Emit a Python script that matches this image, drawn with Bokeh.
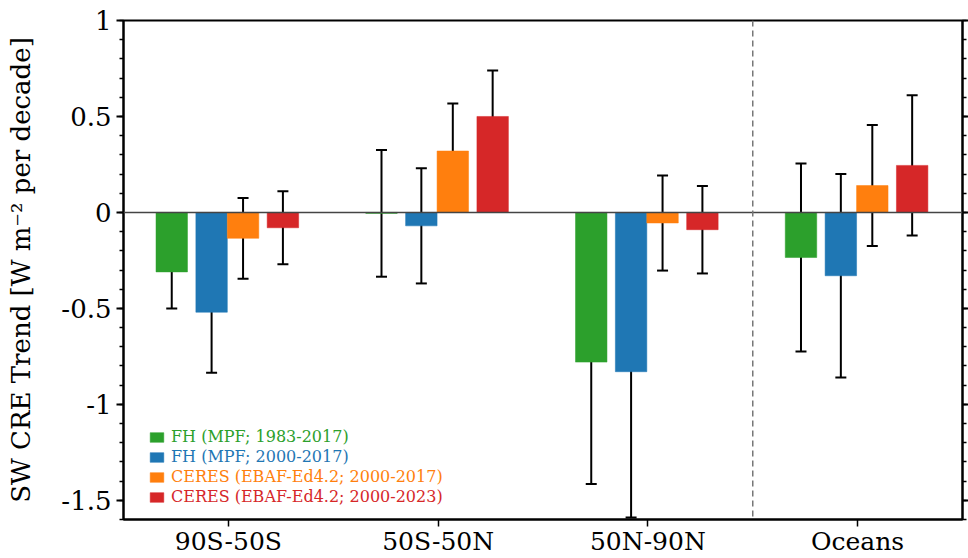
import numpy as np
from bokeh.plotting import figure
from bokeh.models import (ColumnDataSource, Whisker, TeeHead, Span, LinearAxis,
                          FixedTicker, SingleIntervalTicker, CustomJSTickFormatter,
                          Legend, LegendItem, Range1d)
from bokeh.embed import file_html
from bokeh.resources import INLINE

# ---------------- data ----------------
categories = ["90S-50S", "50S-50N", "50N-90N", "Oceans"]

fh_1983 = [-0.31, -0.005, -0.78, -0.235]
fh_1983_err = [0.19, 0.33, 0.635, 0.49]

fh_2000 = [-0.52, -0.07, -0.83, -0.33]
fh_2000_err = [0.316, 0.30, 0.76, 0.53]

ceres_2017 = [-0.135, 0.32, -0.055, 0.14]
ceres_2017_err = [0.21, 0.248, 0.248, 0.315]

ceres_2023 = [-0.08, 0.50, -0.09, 0.245]
ceres_2023_err = [0.19, 0.24, 0.228, 0.365]

series_labels = ["FH (MPF; 1983-2017)", "FH (MPF; 2000-2017)",
                 "CERES (EBAF-Ed4.2; 2000-2017)", "CERES (EBAF-Ed4.2; 2000-2023)"]
series_colors = ["#2ca02c", "#1f77b4", "#ff7f0e", "#d62728"]

y_ticks_major = 0.5
# --------------------------------------

FONT = "DejaVu Serif"

p = figure(width=968, height=558, output_backend="svg", toolbar_location=None,
           x_range=Range1d(-0.5, 3.5), y_range=Range1d(-1.6, 1.0),
           min_border_left=123, min_border_right=6, min_border_top=20,
           min_border_bottom=39)
p.xgrid.visible = False
p.ygrid.visible = False
p.outline_line_color = "black"
p.outline_line_width = 2
p.background_fill_color = "white"
p.border_fill_color = "white"

xpos = np.arange(len(categories))
offsets = [-0.27, -0.08, 0.07, 0.26]
values = [fh_1983, fh_2000, ceres_2017, ceres_2023]
errors = [fh_1983_err, fh_2000_err, ceres_2017_err, ceres_2023_err]

renderers = []
for vals, errs, off, col in zip(values, errors, offsets, series_colors):
    v = np.array(vals)
    e = np.array(errs)
    src = ColumnDataSource(dict(x=xpos + off, top=v, upper=v + e, lower=v - e))
    r = p.vbar(x="x", top="top", bottom=0, width=0.15, source=src,
               fill_color=col, line_color=col, line_width=0.5)
    renderers.append(r)
    w = Whisker(base="x", upper="upper", lower="lower", source=src,
                line_color="black", line_width=2,
                upper_head=TeeHead(size=11, line_color="black", line_width=2),
                lower_head=TeeHead(size=11, line_color="black", line_width=2))
    p.add_layout(w)

p.add_layout(Span(location=0, dimension="width", line_color="#444444", line_width=1.5))
p.add_layout(Span(location=2.5, dimension="height", line_color="#777777",
                  line_width=1.5, line_dash="6 4"))

# x axis
xa = p.xaxis[0]
xa.ticker = FixedTicker(ticks=list(xpos))
xa.major_label_overrides = {int(i): c for i, c in zip(xpos, categories)}
xa.major_label_text_font = FONT
xa.major_label_text_font_size = "25px"
xa.major_label_text_color = "black"
xa.axis_line_width = 2
xa.major_tick_line_width = 1.5
xa.major_tick_out = 7
xa.major_tick_in = 0
xa.minor_tick_line_color = None
xa.major_label_standoff = 0

# y axis
ya = p.yaxis[0]
ya.ticker = SingleIntervalTicker(interval=y_ticks_major, num_minor_ticks=5)
ya.formatter = CustomJSTickFormatter(code="return tick.toString()")
ya.major_label_text_font = FONT
ya.major_label_text_font_size = "26px"
ya.major_label_text_color = "black"
ya.axis_label = "SW CRE Trend [W m\u207b\u00b2 per decade]"
ya.axis_label_text_font = FONT
ya.axis_label_text_font_style = "normal"
ya.axis_label_text_font_size = "26px"
ya.axis_label_text_color = "black"
ya.axis_label_standoff = 22
ya.axis_line_width = 2
ya.major_tick_line_width = 2
ya.minor_tick_line_width = 1.5
ya.major_tick_out = 7
ya.major_tick_in = 0
ya.minor_tick_out = 4
ya.minor_tick_in = 0
ya.major_label_standoff = 5

# right axis (ticks only)
ra = LinearAxis(ticker=SingleIntervalTicker(interval=y_ticks_major, num_minor_ticks=5),
                formatter=CustomJSTickFormatter(code="return ''"))
ra.axis_line_width = 2
ra.major_tick_line_width = 2
ra.minor_tick_line_width = 1.5
ra.major_tick_out = 6
ra.major_tick_in = 0
ra.minor_tick_out = 4
ra.minor_tick_in = 0
ra.major_label_standoff = 0
p.add_layout(ra, "right")

# legend: one per series so each label can take its own colour
row_bottoms = [73, 53, 33, 13]
for r, lab, col, yb in zip(renderers, series_labels, series_colors, row_bottoms):
    lg = Legend(items=[LegendItem(label=lab, renderers=[r])], location=(25, yb),
                label_text_color=col, label_text_font=FONT,
                label_text_font_size="16px", glyph_width=17, glyph_height=12,
                label_height=12, label_standoff=6, padding=0, margin=0,
                spacing=0, border_line_color=None, background_fill_alpha=0)
    p.add_layout(lg)

open("out.html", "w").write(file_html(p, INLINE))
